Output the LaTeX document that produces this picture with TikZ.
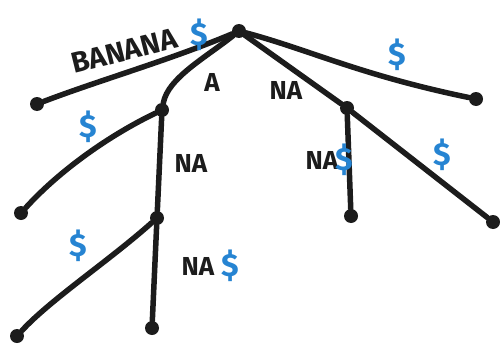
\documentclass[tikz,border=0pt]{standalone}
\usepackage{fontspec}
\setmainfont{Fira Sans}
\definecolor{ink}{RGB}{28,28,28}
\definecolor{dollar}{RGB}{38,132,210}
\begin{document}
\begin{tikzpicture}[x=1pt,y=-1pt,
  edge/.style={draw=ink,line width=5.5pt,line cap=round},
  vert/.style={circle,fill=ink,inner sep=0pt,minimum size=14pt},
  lbl/.style={text=ink,font=\bfseries\fontsize{26}{26}\selectfont,inner sep=0pt},
  dol/.style={text=dollar,font=\bfseries\fontsize{32}{32}\selectfont,inner sep=0pt}]
\useasboundingbox (0,0) rectangle (500,361);
% vertices
\node[vert] (root) at (239,31) {};
\node[vert] (l1) at (37,104) {};
\node[vert] (a) at (162,110) {};
\node[vert] (l2) at (476,99) {};
\node[vert] (na) at (347,108) {};
\node[vert] (l3) at (351,216) {};
\node[vert] (l4) at (493,222) {};
\node[vert] (l5) at (21,213) {};
\node[vert] (ana) at (157,218) {};
\node[vert] (l6) at (17,336) {};
\node[vert] (l7) at (152,328) {};
% edges
\draw[edge] (root) .. controls (170,60) and (100,80) .. (l1);
\draw[edge] (root) .. controls (205,58) and (168,78) .. (a);
\draw[edge] (root) .. controls (310,50) and (360,75) .. (l2);
\draw[edge] (root) -- (na);
\draw[edge] (na) -- (l3);
\draw[edge] (na) -- (l4);
\draw[edge] (a) .. controls (110,135) and (60,170) .. (l5);
\draw[edge] (a) -- (ana);
\draw[edge] (ana) .. controls (110,260) and (50,300) .. (l6);
\draw[edge] (ana) -- (l7);
% edge labels
\node[lbl,rotate=14,font=\bfseries\fontsize{29}{29}\selectfont] (tb) at (124,51) {BANANA};
\node[dol] (tb2) at (199,35) {\$};
\node[lbl] (ta) at (212,82) {A};
\node[lbl] (tna) at (286,90) {NA};
\node[dol] (t2) at (397,55) {\$};
\node[dol] (t5) at (88,127) {\$};
\node[lbl] (tana) at (191,163) {NA};
\node[lbl] (tl3) at (322,160) {NA};
\node[dol] (tl3d) at (344,160) {\$};
\node[dol] (t4) at (442,155) {\$};
\node[dol] (t6) at (78,246) {\$};
\node[lbl] (tl7) at (198,266) {NA};
\node[dol] (tl7d) at (230,266) {\$};
\end{tikzpicture}
\end{document}
